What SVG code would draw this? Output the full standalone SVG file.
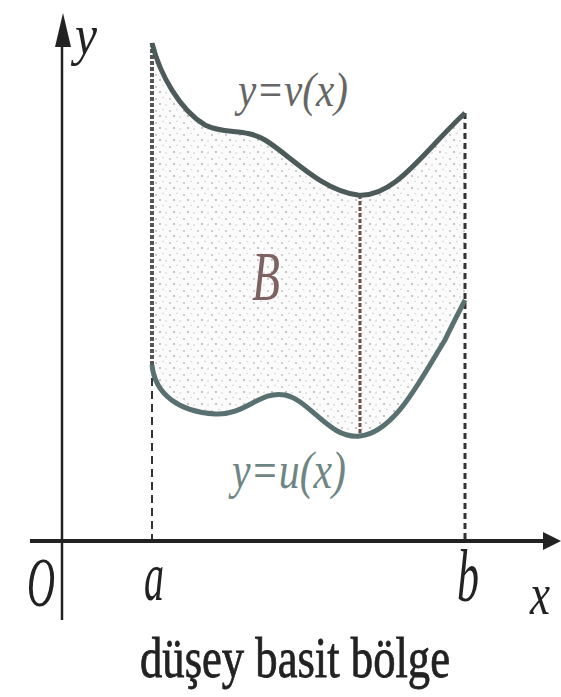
<svg xmlns="http://www.w3.org/2000/svg" width="561" height="697" viewBox="0 0 561 697">
<style>
.lbl{font-family:"Liberation Serif","Times New Roman",serif;font-style:italic}
.cap{font-family:"Liberation Serif","Times New Roman",serif;font-weight:normal;stroke:#222;stroke-width:0.8}
.axis{stroke:#222;fill:none}
</style>
<defs>
<pattern id="stip" width="14" height="12" patternUnits="userSpaceOnUse">
<rect width="14" height="12" fill="#fbfbfb"/>
<circle cx="2" cy="3" r="0.9" fill="#b8b8b8"/>
<circle cx="9" cy="1.5" r="0.7" fill="#c8c8c8"/>
<circle cx="6" cy="8" r="0.9" fill="#aaaaaa"/>
<circle cx="12" cy="9" r="0.7" fill="#c0c0c0"/>
</pattern>
</defs>
<rect width="561" height="697" fill="#ffffff"/>
<g id="region">
<path d="M152,43 C160,75 180,110 205,125 C225,135 245,128 265,140 C290,155 320,190 358,195 C395,198 425,150 465,113 L465,300 C460,310 452,325 445,340 C420,380 395,432 360,436 C330,440 310,400 285,395 C260,390 245,416 215,414 C180,412 155,395 152,365 Z" fill="url(#stip)"/>
</g>
<g id="connectors">
<line x1="152" y1="43" x2="152" y2="365" stroke="#555" stroke-width="4" stroke-dasharray="4 2"/>
<line x1="152" y1="365" x2="152" y2="541" stroke="#333" stroke-width="2" stroke-dasharray="8 5"/>
<line x1="465" y1="113" x2="465" y2="541" stroke="#333" stroke-width="3" stroke-dasharray="6 4"/>
<line x1="360" y1="195" x2="360" y2="436" stroke="#6e5048" stroke-width="3" stroke-dasharray="4 2"/>
</g>
<g id="curve-v">
<path d="M152,43 C160,75 180,110 205,125 C225,135 245,128 265,140 C290,155 320,190 358,195 C395,198 425,150 465,113" fill="none" stroke="#4d5a5a" stroke-width="5"/>
<text class="lbl" x="238" y="106" font-size="49" fill="#666" textLength="110" lengthAdjust="spacingAndGlyphs">y=v(x)</text>
</g>
<g id="curve-u">
<path d="M465,300 C460,310 452,325 445,340 C420,380 395,432 360,436 C330,440 310,400 285,395 C260,390 245,416 215,414 C180,412 155,395 152,365" fill="none" stroke="#587070" stroke-width="5"/>
<text class="lbl" x="232" y="488" font-size="52" fill="#6f8585" textLength="114" lengthAdjust="spacingAndGlyphs">y=u(x)</text>
</g>
<g id="label-B">
<text class="lbl" x="252" y="300" font-size="70" fill="#7e6262" textLength="28" lengthAdjust="spacingAndGlyphs">B</text>
</g>
<g id="axes">
<line class="axis" x1="62" y1="620" x2="62" y2="40" stroke-width="2.5"/>
<polygon points="63,13 55,47 71,47" fill="#222"/>
<line class="axis" x1="30" y1="541" x2="548" y2="541" stroke-width="4"/>
<polygon points="561,541 543,532 543,550" fill="#222"/>
<text class="lbl" x="75" y="54" font-size="58" fill="#222" textLength="22" lengthAdjust="spacingAndGlyphs">y</text>
<text class="lbl" x="27" y="606" font-size="70" fill="#222" textLength="28" lengthAdjust="spacingAndGlyphs">O</text>
<text class="lbl" x="144" y="600" font-size="70" fill="#222" textLength="20" lengthAdjust="spacingAndGlyphs">a</text>
<text class="lbl" x="457" y="601" font-size="74" fill="#222" textLength="22" lengthAdjust="spacingAndGlyphs">b</text>
<text class="lbl" x="530" y="614" font-size="60" fill="#222" textLength="20" lengthAdjust="spacingAndGlyphs">x</text>
</g>
<g id="caption">
<text class="cap" x="140" y="677" font-size="58" fill="#222" textLength="310" lengthAdjust="spacingAndGlyphs">düşey basit bölge</text>
</g>
</svg>
